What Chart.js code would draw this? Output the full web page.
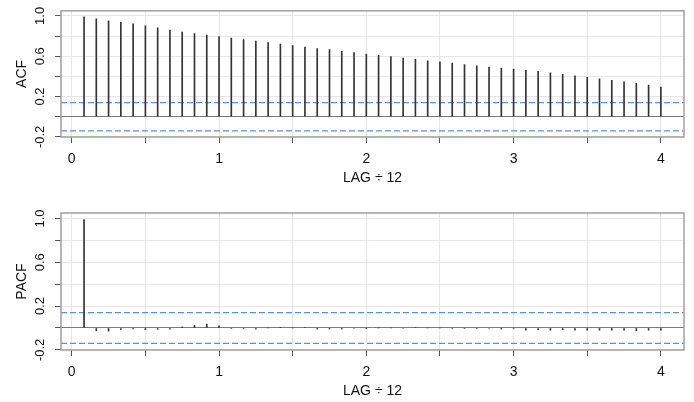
<!DOCTYPE html>
<html>
<head>
<meta charset="utf-8">
<script src="https://cdn.jsdelivr.net/npm/chart.js@4.4.1/dist/chart.umd.min.js"></script>
<style>
  html, body { margin: 0; padding: 0; background: #fff; }
  #wrap { position: relative; width: 694px; height: 402px; }
  .panel { position: absolute; left: 0; width: 694px; }
  #acfBox { top: 0; height: 188px; }
  #pacfBox { top: 188px; height: 213px; }
</style>
</head>
<body>
<div id="wrap">
  <div class="panel" id="acfBox"><canvas id="acfChart"></canvas></div>
  <div class="panel" id="pacfBox"><canvas id="pacfChart"></canvas></div>
</div>
<script>
// lags (monthly), shown on the axis as LAG / 12
const lags = [1, 2, 3, 4, 5, 6, 7, 8, 9, 10, 11, 12, 13, 14, 15, 16, 17, 18, 19, 20, 21, 22, 23, 24,
  25, 26, 27, 28, 29, 30, 31, 32, 33, 34, 35, 36, 37, 38, 39, 40, 41, 42, 43, 44, 45, 46, 47, 48];

const acfValues = [0.99, 0.97, 0.95, 0.935, 0.92, 0.90, 0.88, 0.86, 0.84, 0.825, 0.81, 0.795,
  0.78, 0.765, 0.75, 0.735, 0.72, 0.705, 0.69, 0.675, 0.665, 0.648, 0.635, 0.622,
  0.609, 0.595, 0.582, 0.568, 0.555, 0.544, 0.531, 0.518, 0.505, 0.492, 0.482, 0.472,
  0.46, 0.45, 0.435, 0.42, 0.405, 0.39, 0.375, 0.36, 0.345, 0.33, 0.313, 0.293];

const pacfValues = [0.99, -0.025, -0.028, -0.012, -0.008, -0.015, -0.012, -0.01, 0.01, 0.025, 0.035, 0.02,
  -0.005, -0.005, -0.01, 0.0, 0.003, 0.0, 0.003, -0.01, -0.01, -0.01, -0.005, -0.003,
  0.0, 0.0, -0.005, 0.005, 0.0, 0.0, -0.005, -0.005, -0.005, -0.005, -0.01, -0.005,
  -0.02, -0.015, -0.02, -0.015, -0.02, -0.02, -0.02, -0.02, -0.02, -0.025, -0.02, -0.02];

// approx 2/sqrt(n) bound
const ciBound = 0.14;

const yLabelTicks = [-0.2, 0.2, 0.6, 1.0];
const xLabelTicks = [0, 1, 2, 3, 4];

const FONT = 'Liberation Sans, Arial, Helvetica, sans-serif';

// box around the plot + dashed confidence bounds
const framePlugin = {
    id: 'frame',
    beforeDatasetsDraw(chart) {
        const { ctx, chartArea: a, scales } = chart;
        ctx.save();
        ctx.strokeStyle = '#5b8ee0';
        ctx.lineWidth = 1.3;
        ctx.setLineDash([6, 3]);
        [ciBound, -ciBound].forEach(v => {
            const y = scales.y.getPixelForValue(v);
            ctx.beginPath();
            ctx.moveTo(a.left, y);
            ctx.lineTo(a.right, y);
            ctx.stroke();
        });
        ctx.restore();
    },
    afterDraw(chart) {
        const { ctx, chartArea: a } = chart;
        ctx.save();
        ctx.strokeStyle = '#a0a0a0';
        ctx.lineWidth = 1.5;
        ctx.strokeRect(a.left, a.top, a.right - a.left, a.bottom - a.top);
        ctx.restore();
    }
};

function makePanel(canvasId, values, title, padTop) {
    const ctx = document.getElementById(canvasId).getContext('2d');
    return new Chart(ctx, {
        type: 'bar',
        data: {
            datasets: [{
                data: lags.map((l, i) => ({ x: l / 12, y: values[i] })),
                backgroundColor: '#333',
                borderWidth: 0,
                barThickness: 1,
            }],
        },
        options: {
            responsive: true,
            maintainAspectRatio: false,
            animation: false,
            layout: { padding: { top: padTop, right: 10, left: 0, bottom: 0 } },
            plugins: { legend: { display: false }, tooltip: { enabled: false } },
            scales: {
                x: {
                    type: 'linear',
                    offset: false,
                    min: -0.073,
                    max: 4.157,
                    afterFit: s => { s.height = 51; },
                    ticks: {
                        stepSize: 0.5,
                        includeBounds: false,
                        autoSkip: false,
                        maxRotation: 0,
                        padding: 8,
                        color: '#111',
                        font: { family: FONT, size: 14 },
                        callback: v => xLabelTicks.some(t => Math.abs(t - v) < 1e-6) ? String(Math.round(v)) : '',
                    },
                    grid: { color: '#e6e6e6', tickColor: '#555', tickLength: 6, offset: false },
                    border: { display: false },
                    title: {
                        display: true,
                        text: 'LAG ÷ 12',
                        color: '#111',
                        font: { family: FONT, size: 14 },
                        padding: { top: 1, bottom: 1 },
                    },
                },
                y: {
                    min: -0.201,
                    max: 1.05,
                    afterFit: s => { s.width = 61; },
                    ticks: {
                        stepSize: 0.2,
                        includeBounds: false,
                        autoSkip: false,
                        minRotation: 90,
                        maxRotation: 90,
                        crossAlign: 'center',
                        padding: 3,
                        color: '#111',
                        font: { family: FONT, size: 13 },
                        callback: v => yLabelTicks.some(t => Math.abs(t - v) < 1e-6) ? v.toFixed(1) : '',
                    },
                    grid: {
                        color: c => (Math.abs(c.tick.value) < 1e-6 ? '#7a7a7a' : '#e6e6e6'),
                        tickColor: '#555',
                        tickLength: 6,
                    },
                    border: { display: false },
                    title: {
                        display: true,
                        text: title,
                        color: '#111',
                        font: { family: FONT, size: 14 },
                        padding: { top: 14, bottom: 14 },
                    },
                },
            },
        },
        plugins: [framePlugin],
    });
}

makePanel('acfChart', acfValues, 'ACF', 10);
makePanel('pacfChart', pacfValues, 'PACF', 25);
</script>
</body>
</html>
